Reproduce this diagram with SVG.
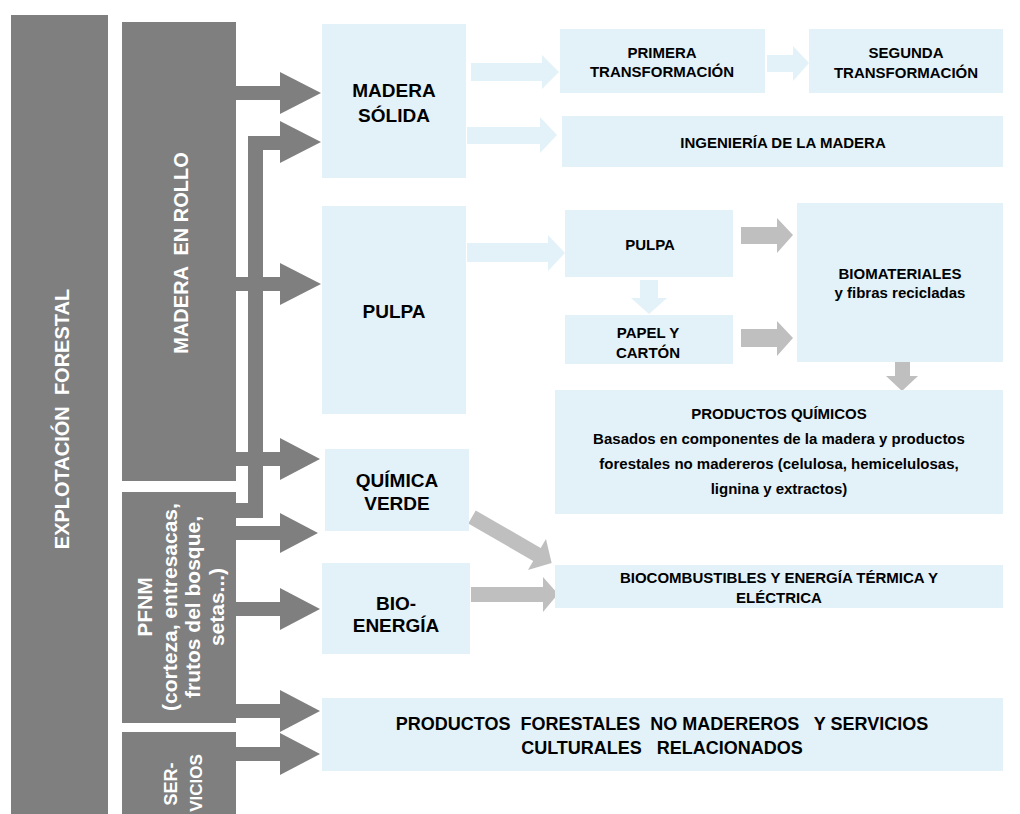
<svg xmlns="http://www.w3.org/2000/svg" width="1020" height="814" viewBox="0 0 1020 814">
<style>
.dk{fill:#7f7f7f}
.lb{fill:#e3f2f9}
.lg{fill:#bfbfbf}
.wt{font-family:"Liberation Sans",Arial,sans-serif;font-weight:bold;fill:#ffffff;text-anchor:middle}
.bt{font-family:"Liberation Sans",Arial,sans-serif;font-weight:bold;fill:#000000;text-anchor:middle}
.big{font-size:19px}
.sm{font-size:15px}
.side{font-size:20px}
</style>
<rect width="1020" height="814" fill="#ffffff"/>

<g id="connectors">
  <!-- dark grey arrows -->
  <rect class="dk" x="236" y="86" width="45" height="14"/>
  <polygon class="dk" points="280,72 321,93 280,114"/>
  <path class="dk" d="M236,503 H248 V136 H281 V150 H263 V518 H236 Z"/>
  <polygon class="dk" points="280,121 321,142 280,163"/>
  <rect class="dk" x="236" y="277" width="45" height="14"/>
  <polygon class="dk" points="280,263 321,284 280,305"/>
  <rect class="dk" x="236" y="452" width="45" height="14"/>
  <polygon class="dk" points="280,438 320,459 280,480"/>
  <rect class="dk" x="236" y="526" width="45" height="14"/>
  <polygon class="dk" points="280,513 318,533 280,553"/>
  <rect class="dk" x="236" y="602" width="45" height="14"/>
  <polygon class="dk" points="280,588 320,609 280,630"/>
  <rect class="dk" x="236" y="704" width="45" height="14"/>
  <polygon class="dk" points="280,690 320,711 280,732"/>
  <rect class="dk" x="236" y="747" width="45" height="14"/>
  <polygon class="dk" points="280,733 320,754 280,775"/>
  <!-- light blue arrows -->
  <polygon class="lb" points="471,63 542,63 542,55 559,72 542,89 542,81 471,81"/>
  <polygon class="lb" points="467,127 540,127 540,117 557,135 540,153 540,144 467,144"/>
  <polygon class="lb" points="767,55 793,55 793,46 809,63 793,81 793,72 767,72"/>
  <polygon class="lb" points="467,243 548,243 548,235 565,253 548,271 548,262 467,262"/>
  <polygon class="lb" points="640,280 658,280 658,298 667,298 649,314 631,298 640,298"/>
  <!-- light grey arrows -->
  <polygon class="lg" points="741,227 777,227 777,218 793,235 777,253 777,244 741,244"/>
  <polygon class="lg" points="741,329 777,329 777,321 793,338 777,356 777,347 741,347"/>
  <polygon class="lg" points="895,362 910,362 910,376 918,376 902,391 886,376 895,376"/>
  <polygon class="lg" points="0,-7.5 75,-7.5 75,-18 92,0 75,18 75,7.5 0,7.5" transform="translate(472,517) rotate(30)"/>
  <polygon class="lg" points="471,587 543,587 543,577 558,594 543,612 543,602 471,602"/>
</g>

<g id="explotacion-forestal">
  <rect class="dk" x="11" y="15" width="97" height="799"/>
  <text class="wt side" xml:space="preserve" transform="translate(69,419) rotate(-90)">EXPLOTACIÓN  FORESTAL</text>
</g>

<g id="madera-en-rollo">
  <rect class="dk" x="122" y="22" width="114" height="459"/>
  <text class="wt side" xml:space="preserve" transform="translate(188,253) rotate(-90)">MADERA  EN ROLLO</text>
</g>

<g id="pfnm">
  <rect class="dk" x="122" y="492" width="114" height="231"/>
  <g transform="translate(0,607)">
    <text class="wt" style="font-size:21px" transform="translate(152,0) rotate(-90)">PFNM</text>
    <text class="wt" style="font-size:21px" transform="translate(177,0) rotate(-90)">(corteza, entresacas,</text>
    <text class="wt" style="font-size:21px" transform="translate(200,0) rotate(-90)">frutos del bosque,</text>
    <text class="wt" style="font-size:21px" transform="translate(224,0) rotate(-90)">setas...)</text>
  </g>
</g>

<g id="servicios">
  <rect class="dk" x="122" y="732" width="114" height="82"/>
  <text class="wt" style="font-size:18px" transform="translate(177,784) rotate(-90)">SER-</text>
  <text class="wt" style="font-size:17px" transform="translate(202,783) rotate(-90)">VICIOS</text>
</g>

<g id="madera-solida">
  <rect class="lb" x="322" y="24" width="144" height="154"/>
  <text class="bt big" x="394" y="97">MADERA</text>
  <text class="bt big" x="394" y="122">SÓLIDA</text>
</g>

<g id="pulpa">
  <rect class="lb" x="322" y="206" width="144" height="208"/>
  <text class="bt big" x="394" y="318">PULPA</text>
</g>

<g id="quimica-verde">
  <rect class="lb" x="325" y="449" width="144" height="82"/>
  <text class="bt big" x="397" y="487">QUÍMICA</text>
  <text class="bt big" x="397" y="510">VERDE</text>
</g>

<g id="bioenergia">
  <rect class="lb" x="322" y="563" width="148" height="91"/>
  <text class="bt big" x="396" y="610">BIO-</text>
  <text class="bt big" x="396" y="632">ENERGÍA</text>
</g>

<g id="productos-forestales">
  <rect class="lb" x="322" y="698" width="681" height="73"/>
  <text class="bt" style="font-size:18px" xml:space="preserve" x="662" y="730">PRODUCTOS  FORESTALES  NO MADEREROS   Y SERVICIOS</text>
  <text class="bt" style="font-size:18px" xml:space="preserve" x="662" y="754">CULTURALES   RELACIONADOS</text>
</g>

<g id="primera-transformacion">
  <rect class="lb" x="560" y="29" width="205" height="64"/>
  <text class="bt sm" x="662" y="58">PRIMERA</text>
  <text class="bt sm" x="662" y="77">TRANSFORMACIÓN</text>
</g>

<g id="segunda-transformacion">
  <rect class="lb" x="809" y="29" width="194" height="64"/>
  <text class="bt sm" x="906" y="58">SEGUNDA</text>
  <text class="bt sm" x="906" y="78">TRANSFORMACIÓN</text>
</g>

<g id="ingenieria-madera">
  <rect class="lb" x="562" y="116" width="441" height="51"/>
  <text class="bt sm" x="783" y="148">INGENIERÍA DE LA MADERA</text>
</g>

<g id="pulpa-2">
  <rect class="lb" x="565" y="210" width="168" height="67"/>
  <text class="bt sm" x="650" y="250">PULPA</text>
</g>

<g id="papel-carton">
  <rect class="lb" x="565" y="315" width="168" height="49"/>
  <text class="bt sm" x="648" y="338">PAPEL Y</text>
  <text class="bt sm" x="648" y="358">CARTÓN</text>
</g>

<g id="biomateriales">
  <rect class="lb" x="797" y="203" width="206" height="159"/>
  <text class="bt sm" x="900" y="279">BIOMATERIALES</text>
  <text class="bt sm" x="900" y="298">y fibras recicladas</text>
</g>

<g id="productos-quimicos">
  <rect class="lb" x="555" y="390" width="448" height="124"/>
  <text class="bt sm" x="779" y="419">PRODUCTOS QUÍMICOS</text>
  <text class="bt sm" x="779" y="444">Basados en componentes de la madera y productos</text>
  <text class="bt sm" x="779" y="469">forestales no madereros (celulosa, hemicelulosas,</text>
  <text class="bt sm" x="779" y="494">lignina y extractos)</text>
</g>

<g id="biocombustibles">
  <rect class="lb" x="555" y="565" width="448" height="43"/>
  <text class="bt sm" x="779" y="583">BIOCOMBUSTIBLES Y ENERGÍA TÉRMICA Y</text>
  <text class="bt sm" x="779" y="603">ELÉCTRICA</text>
</g>
</svg>
